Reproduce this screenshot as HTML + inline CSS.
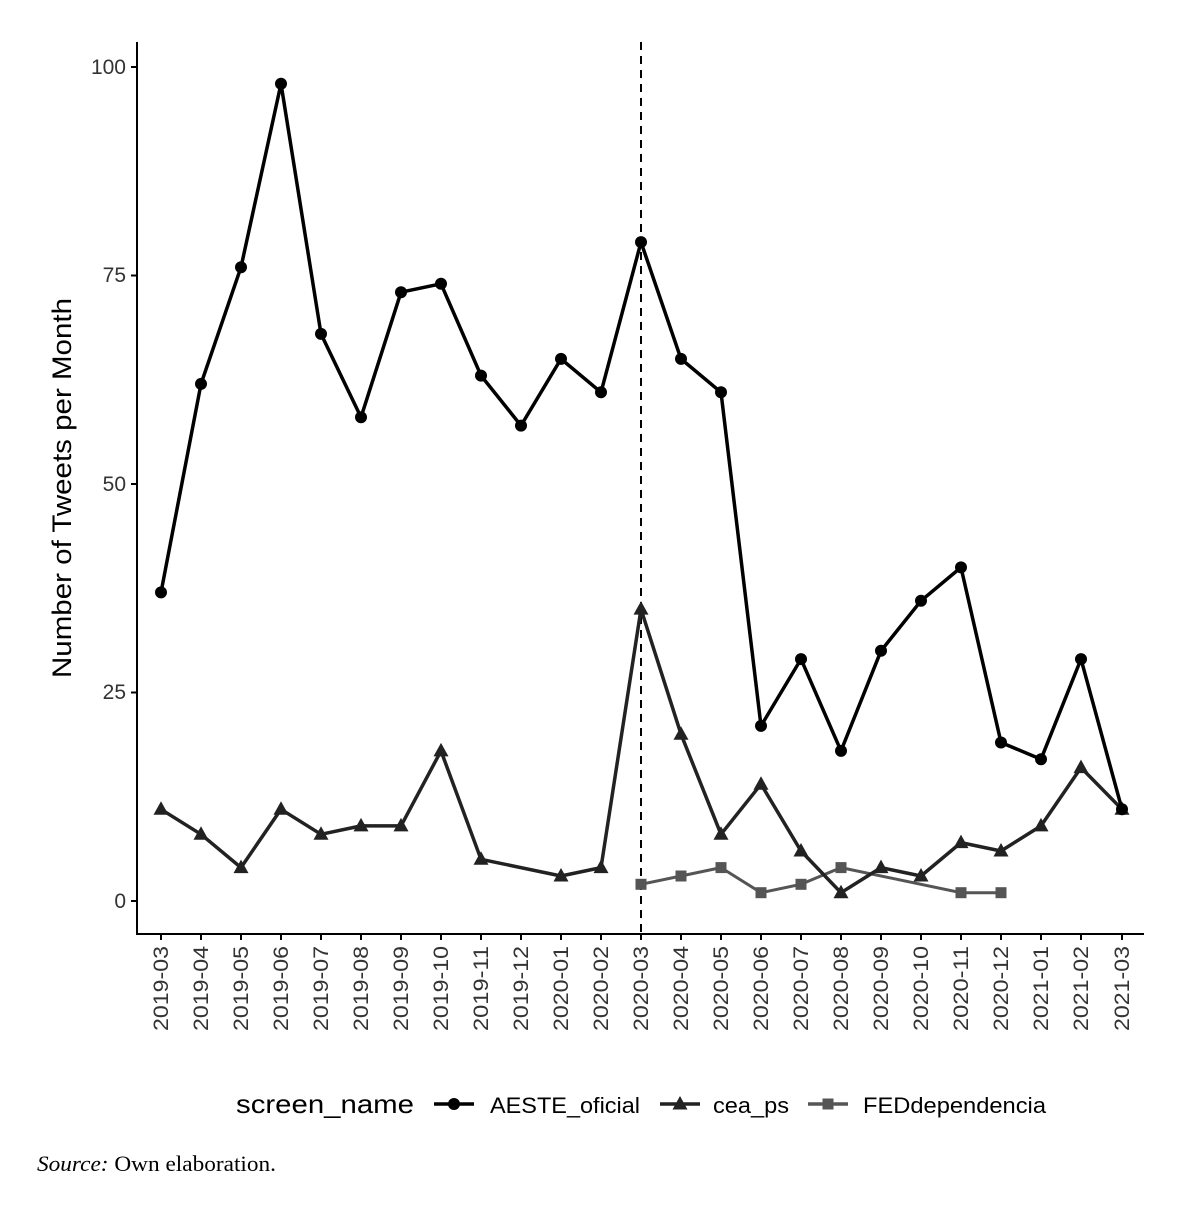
<!DOCTYPE html><html><head><style>body{margin:0;background:#fff}svg{display:block}</style></head><body>
<svg width="1196" height="1208" viewBox="0 0 1196 1208" xmlns="http://www.w3.org/2000/svg" font-family="Liberation Sans, Arial, sans-serif">
<defs>
<marker id="c" markerUnits="userSpaceOnUse" viewBox="-8 -8 16 16" markerWidth="16" markerHeight="16" refX="0" refY="0"><circle r="6" fill="#000"/></marker>
<marker id="t" markerUnits="userSpaceOnUse" viewBox="-9 -9 18 18" markerWidth="18" markerHeight="18" refX="0" refY="0"><polygon points="0,-8 7.5,5.5 -7.5,5.5" fill="#222"/></marker>
<marker id="s" markerUnits="userSpaceOnUse" viewBox="-8 -8 16 16" markerWidth="16" markerHeight="16" refX="0" refY="0"><rect x="-5.5" y="-5.5" width="11" height="11" fill="#555"/></marker>
</defs>
<line x1="137" y1="42" x2="137" y2="935" stroke="#000" stroke-width="2"/>
<line x1="136" y1="934" x2="1144" y2="934" stroke="#000" stroke-width="2"/>
<g stroke="#000" stroke-width="2">
<line x1="131" y1="901" x2="137" y2="901"/><line x1="131" y1="692.5" x2="137" y2="692.5"/><line x1="131" y1="484" x2="137" y2="484"/><line x1="131" y1="275.5" x2="137" y2="275.5"/><line x1="131" y1="67" x2="137" y2="67"/>
</g>
<g font-size="21" fill="#333" text-anchor="end">
<text x="126" y="908">0</text><text x="126" y="699">25</text><text x="126" y="491">50</text><text x="126" y="282">75</text><text x="126" y="74">100</text>
</g>
<text transform="translate(71,488) rotate(-90)" font-size="27" text-anchor="middle" fill="#000" textLength="380" lengthAdjust="spacingAndGlyphs">Number of Tweets per Month</text>
<g stroke="#000" stroke-width="2">
<line x1="161" y1="934" x2="161" y2="940"/><line x1="201" y1="934" x2="201" y2="940"/><line x1="241" y1="934" x2="241" y2="940"/><line x1="281" y1="934" x2="281" y2="940"/><line x1="321" y1="934" x2="321" y2="940"/><line x1="361" y1="934" x2="361" y2="940"/><line x1="401" y1="934" x2="401" y2="940"/><line x1="441" y1="934" x2="441" y2="940"/><line x1="481" y1="934" x2="481" y2="940"/><line x1="521" y1="934" x2="521" y2="940"/><line x1="561" y1="934" x2="561" y2="940"/><line x1="601" y1="934" x2="601" y2="940"/><line x1="641" y1="934" x2="641" y2="940"/><line x1="681" y1="934" x2="681" y2="940"/><line x1="721" y1="934" x2="721" y2="940"/><line x1="761" y1="934" x2="761" y2="940"/><line x1="801" y1="934" x2="801" y2="940"/><line x1="841" y1="934" x2="841" y2="940"/><line x1="881" y1="934" x2="881" y2="940"/><line x1="921" y1="934" x2="921" y2="940"/><line x1="961" y1="934" x2="961" y2="940"/><line x1="1001" y1="934" x2="1001" y2="940"/><line x1="1041" y1="934" x2="1041" y2="940"/><line x1="1081" y1="934" x2="1081" y2="940"/><line x1="1122" y1="934" x2="1122" y2="940"/>
</g>
<g font-size="21" fill="#333" text-anchor="end">
<text transform="translate(168,946) rotate(-90)" textLength="85" lengthAdjust="spacingAndGlyphs">2019-03</text>
<text transform="translate(208,946) rotate(-90)" textLength="85" lengthAdjust="spacingAndGlyphs">2019-04</text>
<text transform="translate(248,946) rotate(-90)" textLength="85" lengthAdjust="spacingAndGlyphs">2019-05</text>
<text transform="translate(288,946) rotate(-90)" textLength="85" lengthAdjust="spacingAndGlyphs">2019-06</text>
<text transform="translate(328,946) rotate(-90)" textLength="85" lengthAdjust="spacingAndGlyphs">2019-07</text>
<text transform="translate(368,946) rotate(-90)" textLength="85" lengthAdjust="spacingAndGlyphs">2019-08</text>
<text transform="translate(408,946) rotate(-90)" textLength="85" lengthAdjust="spacingAndGlyphs">2019-09</text>
<text transform="translate(448,946) rotate(-90)" textLength="85" lengthAdjust="spacingAndGlyphs">2019-10</text>
<text transform="translate(488,946) rotate(-90)" textLength="85" lengthAdjust="spacingAndGlyphs">2019-11</text>
<text transform="translate(528,946) rotate(-90)" textLength="85" lengthAdjust="spacingAndGlyphs">2019-12</text>
<text transform="translate(568,946) rotate(-90)" textLength="85" lengthAdjust="spacingAndGlyphs">2020-01</text>
<text transform="translate(608,946) rotate(-90)" textLength="85" lengthAdjust="spacingAndGlyphs">2020-02</text>
<text transform="translate(648,946) rotate(-90)" textLength="85" lengthAdjust="spacingAndGlyphs">2020-03</text>
<text transform="translate(688,946) rotate(-90)" textLength="85" lengthAdjust="spacingAndGlyphs">2020-04</text>
<text transform="translate(728,946) rotate(-90)" textLength="85" lengthAdjust="spacingAndGlyphs">2020-05</text>
<text transform="translate(768,946) rotate(-90)" textLength="85" lengthAdjust="spacingAndGlyphs">2020-06</text>
<text transform="translate(808,946) rotate(-90)" textLength="85" lengthAdjust="spacingAndGlyphs">2020-07</text>
<text transform="translate(848,946) rotate(-90)" textLength="85" lengthAdjust="spacingAndGlyphs">2020-08</text>
<text transform="translate(888,946) rotate(-90)" textLength="85" lengthAdjust="spacingAndGlyphs">2020-09</text>
<text transform="translate(928,946) rotate(-90)" textLength="85" lengthAdjust="spacingAndGlyphs">2020-10</text>
<text transform="translate(968,946) rotate(-90)" textLength="85" lengthAdjust="spacingAndGlyphs">2020-11</text>
<text transform="translate(1008,946) rotate(-90)" textLength="85" lengthAdjust="spacingAndGlyphs">2020-12</text>
<text transform="translate(1048,946) rotate(-90)" textLength="85" lengthAdjust="spacingAndGlyphs">2021-01</text>
<text transform="translate(1088,946) rotate(-90)" textLength="85" lengthAdjust="spacingAndGlyphs">2021-02</text>
<text transform="translate(1129,946) rotate(-90)" textLength="85" lengthAdjust="spacingAndGlyphs">2021-03</text>
</g>
<line x1="641" y1="42" x2="641" y2="934" stroke="#000" stroke-width="2" stroke-dasharray="8,6"/>
<polyline fill="none" stroke="#555" stroke-width="3" stroke-linejoin="round" marker-start="url(#s)" marker-mid="url(#s)" marker-end="url(#s)" points="641,884.3 681,876 721,867.6 761,892.7 801,884.3 841,867.6 961,892.7 1001,892.7"/>
<polyline fill="none" stroke="#222" stroke-width="3.5" stroke-linejoin="round" marker-start="url(#t)" marker-mid="url(#t)" marker-end="url(#t)" points="161,809.3 201,834.3 241,867.6 281,809.3 321,834.3 361,825.9 401,825.9 441,750.9 481,859.3 561,876 601,867.6 641,609.1 681,734.2 721,834.3 761,784.2 801,851 841,892.7 881,867.6 921,876 961,842.6 1001,851 1041,825.9 1081,767.6 1122,809.3"/>
<polyline fill="none" stroke="#000" stroke-width="3.5" stroke-linejoin="round" marker-start="url(#c)" marker-mid="url(#c)" marker-end="url(#c)" points="161,592.4 201,383.9 241,267.2 281,83.7 321,333.9 361,417.3 401,292.2 441,283.8 481,375.6 521,425.6 561,358.9 601,392.3 641,242.1 681,358.9 721,392.3 761,725.9 801,659.1 841,750.9 881,650.8 921,600.8 961,567.4 1001,742.5 1041,759.2 1081,659.1 1122,809.3"/>
<text x="236" y="1113" font-size="26" fill="#000" textLength="178" lengthAdjust="spacingAndGlyphs">screen_name</text>
<line x1="434" y1="1104" x2="474" y2="1104" stroke="#000" stroke-width="3.5"/><circle cx="454" cy="1104" r="6" fill="#000"/>
<text x="490" y="1113" font-size="22" fill="#000" textLength="150" lengthAdjust="spacingAndGlyphs">AESTE_oficial</text>
<line x1="660" y1="1104" x2="700" y2="1104" stroke="#222" stroke-width="3.5"/><polygon points="680,1096 687.5,1109.5 672.5,1109.5" fill="#222"/>
<text x="713" y="1113" font-size="22" fill="#000" textLength="76" lengthAdjust="spacingAndGlyphs">cea_ps</text>
<line x1="808" y1="1104" x2="848" y2="1104" stroke="#555" stroke-width="3.5"/><rect x="822.5" y="1098.5" width="11" height="11" fill="#555"/>
<text x="863" y="1113" font-size="22" fill="#000" textLength="183" lengthAdjust="spacingAndGlyphs">FEDdependencia</text>
<text x="37" y="1171" font-size="22" font-family="Liberation Serif, serif" fill="#000" textLength="239" lengthAdjust="spacingAndGlyphs"><tspan font-style="italic">Source:</tspan> Own elaboration.</text>
</svg>
</body></html>
